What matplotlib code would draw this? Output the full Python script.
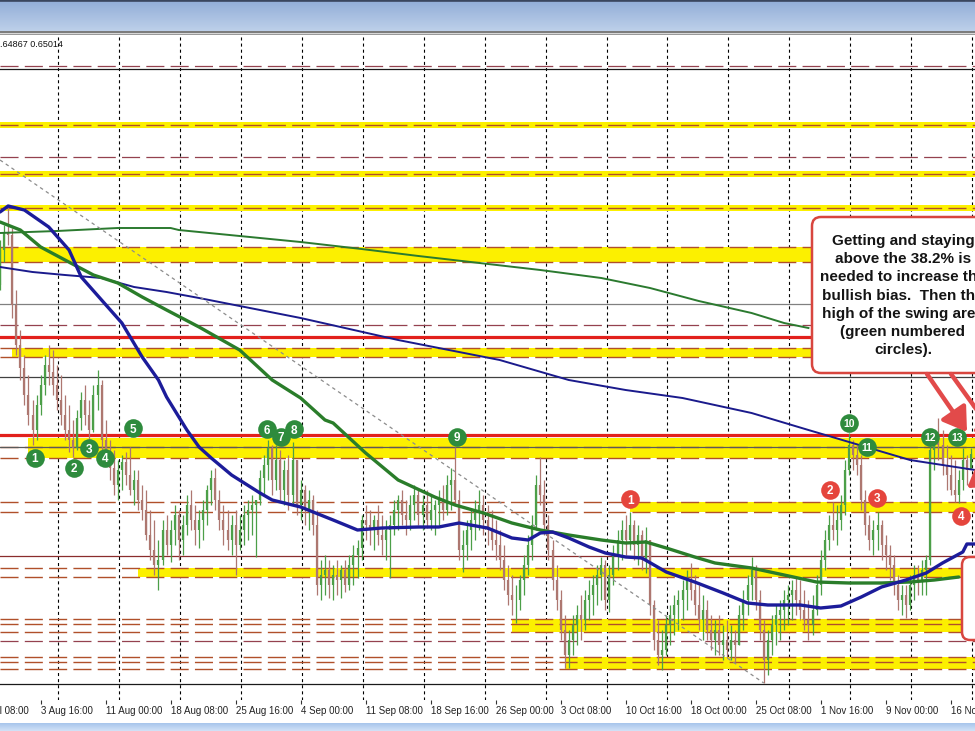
import numpy as np
import matplotlib
matplotlib.use("Agg")
import matplotlib.pyplot as plt
from matplotlib.colors import to_rgb
from matplotlib.patches import Rectangle, FancyBboxPatch, FancyArrowPatch
from matplotlib.transforms import Affine2D, blended_transform_factory

plt.rcParams['lines.scale_dashes'] = False
plt.rcParams['font.family'] = ['Liberation Sans', 'DejaVu Sans']

# ---------------- price bars (4-hour chart shown in 8-hour steps) ----------------
open_first = 0.6670
hi = [0.6715, 0.6730, 0.6748, 0.6727, 0.6665, 0.6625, 0.6600, 0.6580, 0.6555, 0.6560,
      0.6580, 0.6600, 0.6610, 0.6605, 0.6590, 0.6580, 0.6560, 0.6550, 0.6535, 0.6545,
      0.6563, 0.6570, 0.6555, 0.6570, 0.6585, 0.6575, 0.6535, 0.6515, 0.6505, 0.6495,
      0.6500, 0.6503, 0.6508, 0.6485, 0.6485, 0.6470, 0.6465, 0.6445, 0.6435, 0.6415,
      0.6435, 0.6440, 0.6435, 0.6450, 0.6445, 0.6440, 0.6460, 0.6465, 0.6450, 0.6445,
      0.6455, 0.6470, 0.6485, 0.6487, 0.6465, 0.6450, 0.6445, 0.6440, 0.6445, 0.6440,
      0.6450, 0.6455, 0.6460, 0.6455, 0.6485, 0.6500, 0.6515, 0.6510, 0.6510, 0.6505,
      0.6495, 0.6500, 0.6513, 0.6495, 0.6475, 0.6470, 0.6465, 0.6460, 0.6445, 0.6395,
      0.6400, 0.6395, 0.6390, 0.6395, 0.6390, 0.6395, 0.6400, 0.6410, 0.6415, 0.6440,
      0.6450, 0.6445, 0.6440, 0.6450, 0.6440, 0.6435, 0.6440, 0.6455, 0.6460, 0.6465,
      0.6455, 0.6460, 0.6470, 0.6465, 0.6460, 0.6465, 0.6460, 0.6455, 0.6465, 0.6470,
      0.6480, 0.6487, 0.6508, 0.6465, 0.6425, 0.6435, 0.6445, 0.6455, 0.6465, 0.6460,
      0.6450, 0.6445, 0.6435, 0.6425, 0.6410, 0.6390, 0.6380, 0.6370, 0.6380, 0.6400,
      0.6420, 0.6440, 0.6480, 0.6498, 0.6475, 0.6440, 0.6415, 0.6390, 0.6365, 0.6340,
      0.6325, 0.6340, 0.6350, 0.6360, 0.6365, 0.6375, 0.6380, 0.6390, 0.6398, 0.6395,
      0.6390, 0.6410, 0.6425, 0.6435, 0.6440, 0.6443, 0.6435, 0.6430, 0.6425, 0.6428,
      0.6415, 0.6355, 0.6335, 0.6325, 0.6340, 0.6350, 0.6360, 0.6365, 0.6375, 0.6385,
      0.6392, 0.6380, 0.6370, 0.6360, 0.6355, 0.6340, 0.6335, 0.6340, 0.6330, 0.6335,
      0.6330, 0.6325, 0.6350, 0.6365, 0.6380, 0.6398, 0.6390, 0.6365, 0.6335, 0.6325,
      0.6340, 0.6350, 0.6355, 0.6365, 0.6370, 0.6375, 0.6377, 0.6375, 0.6365, 0.6355,
      0.6360, 0.6380, 0.6405, 0.6425, 0.6440, 0.6453, 0.6450, 0.6460, 0.6495, 0.6522,
      0.6515, 0.6510, 0.6500, 0.6465, 0.6440, 0.6435, 0.6443, 0.6435, 0.6420, 0.6410,
      0.6400, 0.6380, 0.6370, 0.6370, 0.6380, 0.6390, 0.6390, 0.6395, 0.6400, 0.6520,
      0.6525, 0.6537, 0.6525, 0.6510, 0.6500, 0.6495, 0.6485, 0.6507, 0.6500, 0.6507]
lo = [0.6665, 0.6693, 0.6710, 0.6637, 0.6600, 0.6575, 0.6550, 0.6530, 0.6510, 0.6515,
      0.6540, 0.6560, 0.6570, 0.6560, 0.6545, 0.6530, 0.6515, 0.6503, 0.6498, 0.6505,
      0.6525, 0.6530, 0.6515, 0.6523, 0.6545, 0.6505, 0.6493, 0.6475, 0.6460, 0.6455,
      0.6465, 0.6470, 0.6460, 0.6450, 0.6445, 0.6435, 0.6415, 0.6395, 0.6380, 0.6365,
      0.6390, 0.6400, 0.6393, 0.6410, 0.6395, 0.6400, 0.6420, 0.6425, 0.6410, 0.6407,
      0.6415, 0.6430, 0.6450, 0.6445, 0.6425, 0.6410, 0.6405, 0.6400, 0.6380, 0.6405,
      0.6410, 0.6415, 0.6420, 0.6398, 0.6450, 0.6460, 0.6475, 0.6460, 0.6465, 0.6455,
      0.6450, 0.6445, 0.6450, 0.6440, 0.6435, 0.6430, 0.6425, 0.6420, 0.6360, 0.6355,
      0.6360, 0.6357, 0.6355, 0.6360, 0.6357, 0.6363, 0.6365, 0.6370, 0.6377, 0.6395,
      0.6415, 0.6410, 0.6405, 0.6410, 0.6400, 0.6395, 0.6377, 0.6420, 0.6425, 0.6430,
      0.6420, 0.6425, 0.6435, 0.6430, 0.6425, 0.6427, 0.6425, 0.6420, 0.6430, 0.6435,
      0.6440, 0.6445, 0.6450, 0.6395, 0.6383, 0.6395, 0.6405, 0.6415, 0.6425, 0.6420,
      0.6410, 0.6405, 0.6395, 0.6385, 0.6365, 0.6350, 0.6340, 0.6332, 0.6345, 0.6360,
      0.6380, 0.6395, 0.6425, 0.6450, 0.6420, 0.6395, 0.6365, 0.6345, 0.6315, 0.6287,
      0.6287, 0.6300, 0.6310, 0.6315, 0.6325, 0.6335, 0.6340, 0.6350, 0.6355, 0.6345,
      0.6343, 0.6370, 0.6385, 0.6395, 0.6400, 0.6405, 0.6395, 0.6390, 0.6385, 0.6382,
      0.6340, 0.6305, 0.6290, 0.6285, 0.6300, 0.6310, 0.6320, 0.6325, 0.6335, 0.6345,
      0.6355, 0.6340, 0.6325, 0.6315, 0.6315, 0.6305, 0.6300, 0.6300, 0.6295, 0.6297,
      0.6295, 0.6293, 0.6310, 0.6325, 0.6340, 0.6355, 0.6345, 0.6315, 0.6272, 0.6280,
      0.6300, 0.6310, 0.6315, 0.6325, 0.6330, 0.6335, 0.6340, 0.6335, 0.6325, 0.6315,
      0.6320, 0.6340, 0.6360, 0.6385, 0.6405, 0.6415, 0.6410, 0.6425, 0.6440, 0.6480,
      0.6485, 0.6480, 0.6445, 0.6420, 0.6405, 0.6400, 0.6405, 0.6395, 0.6385, 0.6375,
      0.6360, 0.6345, 0.6340, 0.6337, 0.6345, 0.6355, 0.6360, 0.6360, 0.6360, 0.6390,
      0.6485, 0.6495, 0.6480, 0.6465, 0.6460, 0.6453, 0.6452, 0.6465, 0.6470, 0.64867]
cl = [0.6705, 0.6723, 0.6720, 0.6650, 0.6610, 0.6587, 0.6560, 0.6540, 0.6525, 0.6550,
      0.6570, 0.6590, 0.6583, 0.6570, 0.6555, 0.6540, 0.6525, 0.6515, 0.6507, 0.6537,
      0.6555, 0.6540, 0.6525, 0.6560, 0.6570, 0.6515, 0.6503, 0.6487, 0.6470, 0.6485,
      0.6493, 0.6480, 0.6465, 0.6475, 0.6455, 0.6445, 0.6420, 0.6405, 0.6390, 0.6395,
      0.6425, 0.6410, 0.6425, 0.6440, 0.6415, 0.6430, 0.6450, 0.6435, 0.6425, 0.6435,
      0.6445, 0.6465, 0.6477, 0.6455, 0.6435, 0.6425, 0.6415, 0.6430, 0.6410, 0.6425,
      0.6440, 0.6445, 0.6450, 0.6455, 0.6477, 0.6490, 0.6507, 0.6475, 0.6495, 0.6465,
      0.6485, 0.6460, 0.6495, 0.6450, 0.6465, 0.6445, 0.6455, 0.6430, 0.6370, 0.6380,
      0.6385, 0.6370, 0.6380, 0.6375, 0.6385, 0.6370, 0.6390, 0.6400, 0.6407, 0.6435,
      0.6430, 0.6425, 0.6435, 0.6420, 0.6415, 0.6425, 0.6430, 0.6445, 0.6455, 0.6440,
      0.6435, 0.6450, 0.6460, 0.6440, 0.6450, 0.6435, 0.6445, 0.6450, 0.6455, 0.6445,
      0.6470, 0.6475, 0.6455, 0.6405, 0.6410, 0.6425, 0.6435, 0.6445, 0.6450, 0.6435,
      0.6425, 0.6415, 0.6410, 0.6395, 0.6375, 0.6360, 0.6355, 0.6355, 0.6375, 0.6390,
      0.6410, 0.6430, 0.6470, 0.6460, 0.6430, 0.6405, 0.6375, 0.6355, 0.6325, 0.6300,
      0.6315, 0.6330, 0.6340, 0.6335, 0.6355, 0.6360, 0.6370, 0.6380, 0.6390, 0.6355,
      0.6380, 0.6400, 0.6415, 0.6425, 0.6415, 0.6430, 0.6410, 0.6420, 0.6395, 0.6415,
      0.6350, 0.6315, 0.6300, 0.6305, 0.6330, 0.6340, 0.6350, 0.6355, 0.6365, 0.6375,
      0.6365, 0.6350, 0.6335, 0.6345, 0.6325, 0.6315, 0.6325, 0.6310, 0.6315, 0.6305,
      0.6315, 0.6310, 0.6340, 0.6355, 0.6370, 0.6385, 0.6355, 0.6325, 0.6295, 0.6315,
      0.6330, 0.6340, 0.6345, 0.6355, 0.6360, 0.6365, 0.6355, 0.6345, 0.6335, 0.6330,
      0.6345, 0.6370, 0.6395, 0.6415, 0.6430, 0.6425, 0.6435, 0.6450, 0.6485, 0.6510,
      0.6500, 0.6490, 0.6455, 0.6430, 0.6415, 0.6425, 0.6430, 0.6410, 0.6400, 0.6390,
      0.6370, 0.6355, 0.6360, 0.6350, 0.6370, 0.6380, 0.6375, 0.6385, 0.6395, 0.6505,
      0.6515, 0.6510, 0.6490, 0.6480, 0.6465, 0.6460, 0.6475, 0.6495, 0.6485, 0.65014]

# ---------------- time axis ----------------
tick_idx = [-6, 10, 26, 42, 58, 74, 90, 106, 122, 138, 154, 170, 186, 202, 218, 234]
tick_labels = ["27 Jul 08:00", "3 Aug 16:00", "11 Aug 00:00", "18 Aug 08:00",
               "25 Aug 16:00", "4 Sep 00:00", "11 Sep 08:00", "18 Sep 16:00",
               "26 Sep 00:00", "3 Oct 08:00", "10 Oct 16:00", "18 Oct 00:00",
               "25 Oct 08:00", "1 Nov 16:00", "9 Nov 00:00", "16 Nov 08:00"]
week_starts = [14, 29, 44, 59, 74, 89, 104, 119, 134, 149, 164, 179, 194, 209, 224, 239]

# ---------------- moving averages ----------------
ma_blue_x = [0, 2, 6, 12, 17, 20, 25, 30, 35, 39, 41, 46, 49, 52, 57, 64, 67, 74, 82, 88,
             94, 103, 108, 113, 120, 126, 130, 133, 136, 140, 145, 149, 154, 158, 164,
             171, 178, 184, 189, 197, 202, 207, 212, 217, 223, 228, 232, 237, 238, 240]
ma_blue_y = [0.6743, 0.6749, 0.6745, 0.6728, 0.6705, 0.6678, 0.6655, 0.6632, 0.6598, 0.6575,
             0.6558, 0.6525, 0.6508, 0.6497, 0.6480, 0.6462, 0.6455, 0.6448, 0.6435, 0.6425,
             0.6427, 0.6428, 0.6428, 0.6432, 0.6427, 0.6417, 0.6415, 0.6422, 0.6423, 0.6417,
             0.6408, 0.6402, 0.6398, 0.6397, 0.6383, 0.6373, 0.6362, 0.6352, 0.6350, 0.6350,
             0.6347, 0.6349, 0.6358, 0.6368, 0.6375, 0.6382, 0.6392, 0.6403, 0.6411, 0.6411]
ma_green_x = [0, 5, 10, 16, 23, 29, 35, 41, 49, 59, 67, 74, 80, 82, 90, 98, 107, 112, 119,
              126, 133, 140, 148, 154, 159, 164, 171, 176, 185, 193, 201, 209, 217, 224,
              230, 236]
ma_green_y = [0.6733, 0.6725, 0.6708, 0.6695, 0.6680, 0.6672, 0.6658, 0.6645, 0.6628, 0.6605,
              0.6575, 0.6557, 0.6535, 0.6532, 0.6502, 0.6475, 0.6458, 0.6450, 0.6442, 0.6432,
              0.6425, 0.6420, 0.6415, 0.6412, 0.6413, 0.6407, 0.6398, 0.6392, 0.6387, 0.6380,
              0.6373, 0.6372, 0.6372, 0.6373, 0.6375, 0.6378]
slow_green_x = [0, 14, 29, 42, 44, 59, 74, 89, 103, 118, 133, 148, 160, 172, 185, 193, 199]
slow_green_y = [0.6722, 0.6724, 0.6727, 0.6727, 0.6725, 0.6719, 0.6713, 0.6706, 0.6699,
                0.6692, 0.6685, 0.6677, 0.6667, 0.6654, 0.6642, 0.6632, 0.6627]
slow_blue_x = [0, 8, 16, 25, 33, 41, 49, 74, 98, 123, 140, 154, 168, 185, 199, 209, 224, 240]
slow_blue_y = [0.6688, 0.6683, 0.6680, 0.6677, 0.6668, 0.6663, 0.6657, 0.6637, 0.6615,
               0.6595, 0.6575, 0.6565, 0.6557, 0.6542, 0.6525, 0.6513, 0.6495, 0.6485]
trend_x = [0, 188]
trend_y = [0.6795, 0.6272]

# ---------------- horizontal levels ----------------
red_levels = [0.6618, 0.6520]
solid_levels = [0.6886, 0.6651, 0.6578, 0.6508, 0.6399, 0.6271]
solid_colors = ['#1a1a1a', '#808080', '#404040', '#5a5a5a', '#8a2c2c', '#1a1a1a']
plain_dash_levels = [0.6889, 0.6798, 0.6630, 0.6314]
zone_dash_levels = [0.6830, 0.6781, 0.6747, 0.6708, 0.6693, 0.6607, 0.6598, 0.6508,
                    0.6497, 0.6453, 0.6443, 0.6387, 0.6378, 0.6336, 0.6331, 0.6323,
                    0.6298, 0.6293, 0.6286]
zone_lo = [0.6827, 0.6778, 0.6744, 0.6693, 0.6598, 0.6497, 0.6443, 0.6378, 0.6323, 0.6286]
zone_hi = [0.6833, 0.6784, 0.6750, 0.6708, 0.6607, 0.6517, 0.6453, 0.6387, 0.6336, 0.6298]
zone_start = [0, 0, 0, 0, 3, 7, 155, 34, 126, 139]

# ---------------- swing markers ----------------
green_x = [8.6, 18.2, 21.9, 25.8, 32.7, 65.7, 69.2, 72.4, 112.5, 209.0, 213.4, 228.9, 235.6]
green_y = [0.6497, 0.6487, 0.6507, 0.6497, 0.6527, 0.6526, 0.6518, 0.6526, 0.6518,
           0.6532, 0.6508, 0.6518, 0.6518]
red_x = [155.1, 204.3, 215.9, 236.6]
red_y = [0.6456, 0.6465, 0.6457, 0.6439]

note_lines = ["Getting and staying", "above the 38.2% is", "needed to increase the",
              "bullish bias.  Then the", "high of the swing area", "(green numbered",
              "circles)."]

# ---------------- figure ----------------
W, H = 975, 731
fig = plt.figure(figsize=(W / 100, H / 100), dpi=100, facecolor='white')
PX = Affine2D().scale(1, -1).translate(0, H)   # pixel coordinates, origin at top-left


def strip(y0, y1, c_top, c_bot, z=0):
    a, b = np.array(to_rgb(c_top)), np.array(to_rgb(c_bot))
    n = int(round(y1 - y0))
    for k in range(n):
        t = k / max(n - 1, 1)
        fig.add_artist(Rectangle((0, y0 + k), W, 1.05, transform=PX,
                                 facecolor=tuple(a + (b - a) * t), edgecolor='none', zorder=z))


# window title strip and bottom strip
strip(0, 2, '#3a465e', '#4a5874')
strip(2, 31, '#94afd8', '#bccfe9')
fig.add_artist(Rectangle((0, 31), W, 1.5, transform=PX, facecolor='#7d7d7d', edgecolor='none'))
fig.add_artist(Rectangle((0, 32.5), W, 1.2, transform=PX, facecolor='#d8d8d8', edgecolor='none'))
fig.add_artist(Rectangle((0, 33.7), W, 1.3, transform=PX, facecolor='#9a9a9a', edgecolor='none'))
strip(723, 731, '#a9c6ec', '#cfe0f6')

TOP, BOT = 35, 700
ax = fig.add_axes([0, 1 - BOT / H, 1, (BOT - TOP) / H])
ax.set_facecolor('white')
ax.set_xlim(0, 240)
ax.set_ylim(0.6255, 0.6920)
for s in ax.spines.values():
    s.set_visible(False)
ax.set_yticks([])

# time ticks and weekly grid
ax.set_xticks([t for t in tick_idx if t >= 0])
ax.set_xticks([w + 0.3 for w in week_starts], minor=True)
ax.tick_params(axis='x', which='major', direction='out', length=3, width=0.8,
               color='#333333', labelbottom=False)
ax.tick_params(axis='x', which='minor', length=0, labelbottom=False)
ax.grid(True, which='minor', axis='x', color='black', linestyle=(0, (2.2, 2.2)), linewidth=0.8)
ax.set_axisbelow(True)

blend = blended_transform_factory(ax.transData, PX)
for t, lab in zip(tick_idx, tick_labels):
    ax.text(t + 0.15, 714, lab, transform=blend, fontsize=7, color='#222222',
            ha='left', va='baseline', clip_on=False)

# support / resistance zones
YEL = '#fcf000'
for zl, zh, x0 in zip(zone_lo, zone_hi, zone_start):
    ax.fill_between([x0, 240], zl, zh, color=YEL, lw=0, zorder=1)
for y in zone_dash_levels:
    ax.axhline(y, color='#b0502a', lw=1.0, ls=(0, (13, 4.5)), zorder=2)
for y in plain_dash_levels:
    ax.axhline(y, color='#94414f', lw=0.9, ls=(0, (13, 4.5)), zorder=2)
for y, c in zip(solid_levels, solid_colors):
    ax.axhline(y, color=c, lw=0.9, zorder=2)
for y in red_levels:
    ax.axhline(y, color='#e2201c', lw=2.3, zorder=2.5)

# price bars
hi_a, lo_a, cl_a = np.array(hi), np.array(lo), np.array(cl)
op_a = np.r_[open_first, cl_a[:-1]]
xs = np.arange(len(hi_a))
cols = ['#4c9f48' if c >= o else '#ad7770' for o, c in zip(op_a, cl_a)]
ax.vlines(xs, lo_a, hi_a, colors=cols, lw=0.9, zorder=3)
ax.vlines(xs, np.minimum(op_a, cl_a), np.maximum(op_a, cl_a), colors=cols, lw=1.6, zorder=3)

# moving averages and trend line
ax.plot(slow_green_x, slow_green_y, color='#2b7a2f', lw=1.4, zorder=4)
ax.plot(slow_blue_x, slow_blue_y, color='#1a1a8c', lw=1.4, zorder=4)
ax.plot(ma_green_x, ma_green_y, color='#2a7d2a', lw=2.4, zorder=4.2, solid_capstyle='round')
ax.plot(ma_blue_x, ma_blue_y, color='#1c1c9a', lw=2.4, zorder=4.3, solid_capstyle='round')
ax.plot(trend_x, trend_y, color='#8c8c8c', lw=0.9, ls=(0, (2.5, 2.5)), zorder=4)

# numbered swing markers
ax.scatter(green_x, green_y, s=180, color='#2e8b3d', linewidths=0, zorder=8)
ax.scatter(red_x, red_y, s=180, color='#e5453d', linewidths=0, zorder=8)
for n, (x, y) in enumerate(zip(green_x, green_y), 1):
    ax.text(x, y, str(n), color='white', fontsize=8.5 if n < 10 else 7.5, fontweight='bold',
            ha='center', va='center_baseline', zorder=9)
for n, (x, y) in enumerate(zip(red_x, red_y), 1):
    ax.text(x, y, str(n), color='white', fontsize=8.5, fontweight='bold',
            ha='center', va='center_baseline', zorder=9)

# last-bar readout
fig.text(-5, 47, f"{lo[-1]:.5f} {cl[-1]:.5f}", transform=PX, fontsize=6.5, color='#111111',
         va='baseline', ha='left')

# commentary boxes and arrows
fig.add_artist(FancyBboxPatch((812, 217), 190, 156, boxstyle='round,pad=0,rounding_size=9',
                              transform=PX, facecolor='white', edgecolor='#d8463f', lw=1.8,
                              zorder=5))
fig.add_artist(FancyBboxPatch((962, 557), 60, 83, boxstyle='round,pad=0,rounding_size=8',
                              transform=PX, facecolor='white', edgecolor='#d8463f', lw=1.8,
                              zorder=5))
for k, line in enumerate(note_lines):
    fig.text(903, 245 + 18.2 * k, line, transform=PX, ha='center', va='baseline',
             fontsize=11, fontweight='bold', color='#141414', zorder=7)

for (x0, y0), (x1, y1) in [((927, 374), (967, 432)), ((951, 374), (1000, 442)),
                           ((1010, 458), (967, 488))]:
    fig.add_artist(FancyArrowPatch((x0, y0), (x1, y1), transform=PX,
                                   arrowstyle='-|>,head_length=0.7,head_width=0.45',
                                   mutation_scale=20, lw=3.2, color='#e24a4a',
                                   shrinkA=0, shrinkB=0, zorder=7))

fig.savefig('out.png', dpi=100, facecolor='white')
